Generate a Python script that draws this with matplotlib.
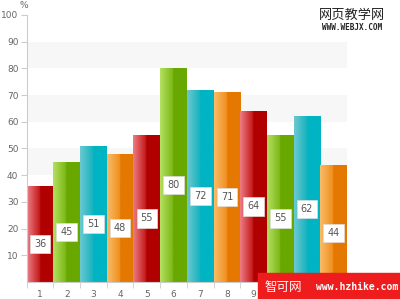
import numpy as np
import matplotlib
matplotlib.use("Agg")
import matplotlib.pyplot as plt
from matplotlib.colors import LinearSegmentedColormap

categories = [str(i) for i in range(1, 13)]
values = [36, 45, 51, 48, 55, 80, 72, 71, 64, 55, 62, 44]
palette = [("#ec7c84", "#c41a1a", "#b00000"),
           ("#b4e060", "#7cb818", "#68a800"),
           ("#6cc8d0", "#18b4c0", "#00b4c4"),
           ("#f8bc68", "#f09020", "#e47800")]
y_ticks = list(range(10, 101, 10))
band_starts = [0, 20, 40, 60, 80]

fig = plt.figure(figsize=(4.0, 2.99), dpi=100)
ax = fig.add_axes([0.0668, 0.0569, 0.8008, 0.893])
x = np.arange(1, len(values) + 1)

for lo in band_starts:
    ax.axhspan(lo, lo + 10, color="#f7f7f7", zorder=0, lw=0)

bars = ax.bar(x, values, width=1.0, color="none", edgecolor="none", zorder=2)
for i, (b, v) in enumerate(zip(bars, values)):
    light, mid, dark = palette[i % 4]
    cmap = LinearSegmentedColormap.from_list(
        "g", [(0, light), (0.47, mid), (0.5, dark), (1.0, dark)])
    grad = np.linspace(0, 1, 64).reshape(1, -1)
    bx, bw = b.get_x(), b.get_width()
    im = ax.imshow(grad, cmap=cmap, aspect="auto",
                   extent=(bx, bx + bw, 0, v), zorder=2, interpolation="bilinear")
    im.set_clip_path(b)
    ax.text(x[i], v / 2 - 3.7, str(v), ha="center", va="center", fontsize=7,
            color="#555555", zorder=4,
            bbox=dict(boxstyle="square,pad=0.42", fc="white", ec="#dddddd", lw=0.5))

ax.set_xlim(0.5, 12.5)
ax.set_ylim(0, 100)
ax.set_yticks(y_ticks)
ax.set_xticks(x)
ax.set_xticklabels(categories)
ax.set_xticks(np.arange(0.5, 13, 1), minor=True)
ax.tick_params(axis="both", labelsize=6.5, colors="#999999", labelcolor="#666666")
ax.tick_params(axis="x", which="major", length=0, pad=6)
ax.tick_params(axis="x", which="minor", length=4, color="#cccccc")
ax.tick_params(axis="y", length=4, color="#cccccc", pad=2)
for s in ["top", "right"]:
    ax.spines[s].set_visible(False)
for s in ["left", "bottom"]:
    ax.spines[s].set_color("#cccccc")
    ax.spines[s].set_linewidth(0.8)

fig.text(24 / 400, 1 - 6 / 299, "%", fontsize=6.5, color="#666666", ha="center", va="center")

# watermarks
fig.text(352 / 400, 1 - 15 / 299, "网页教学网", fontsize=9.5, color="#222222",
         ha="center", va="center", family=["Noto Sans CJK SC", "DejaVu Sans"])
fig.text(352 / 400, 1 - 28 / 299, "WWW.WEBJX.COM", fontsize=5.5, color="#222222",
         ha="center", va="center", family="DejaVu Sans Mono", weight="bold")
fig.patches.append(plt.Rectangle((258 / 400, 0), 142 / 400, 26 / 299,
                                 transform=fig.transFigure, color="#ee1c1c", zorder=10))
fig.text(283 / 400, 12 / 299, "智可网", fontsize=9, color="white", ha="center", va="center",
         family=["Noto Sans CJK SC", "DejaVu Sans"], zorder=11)
fig.text(357 / 400, 12 / 299, "www.hzhike.com", fontsize=7, color="white", ha="center",
         va="center", family="DejaVu Sans Mono", weight="bold", zorder=11)

fig.savefig("out.png", dpi=100)
